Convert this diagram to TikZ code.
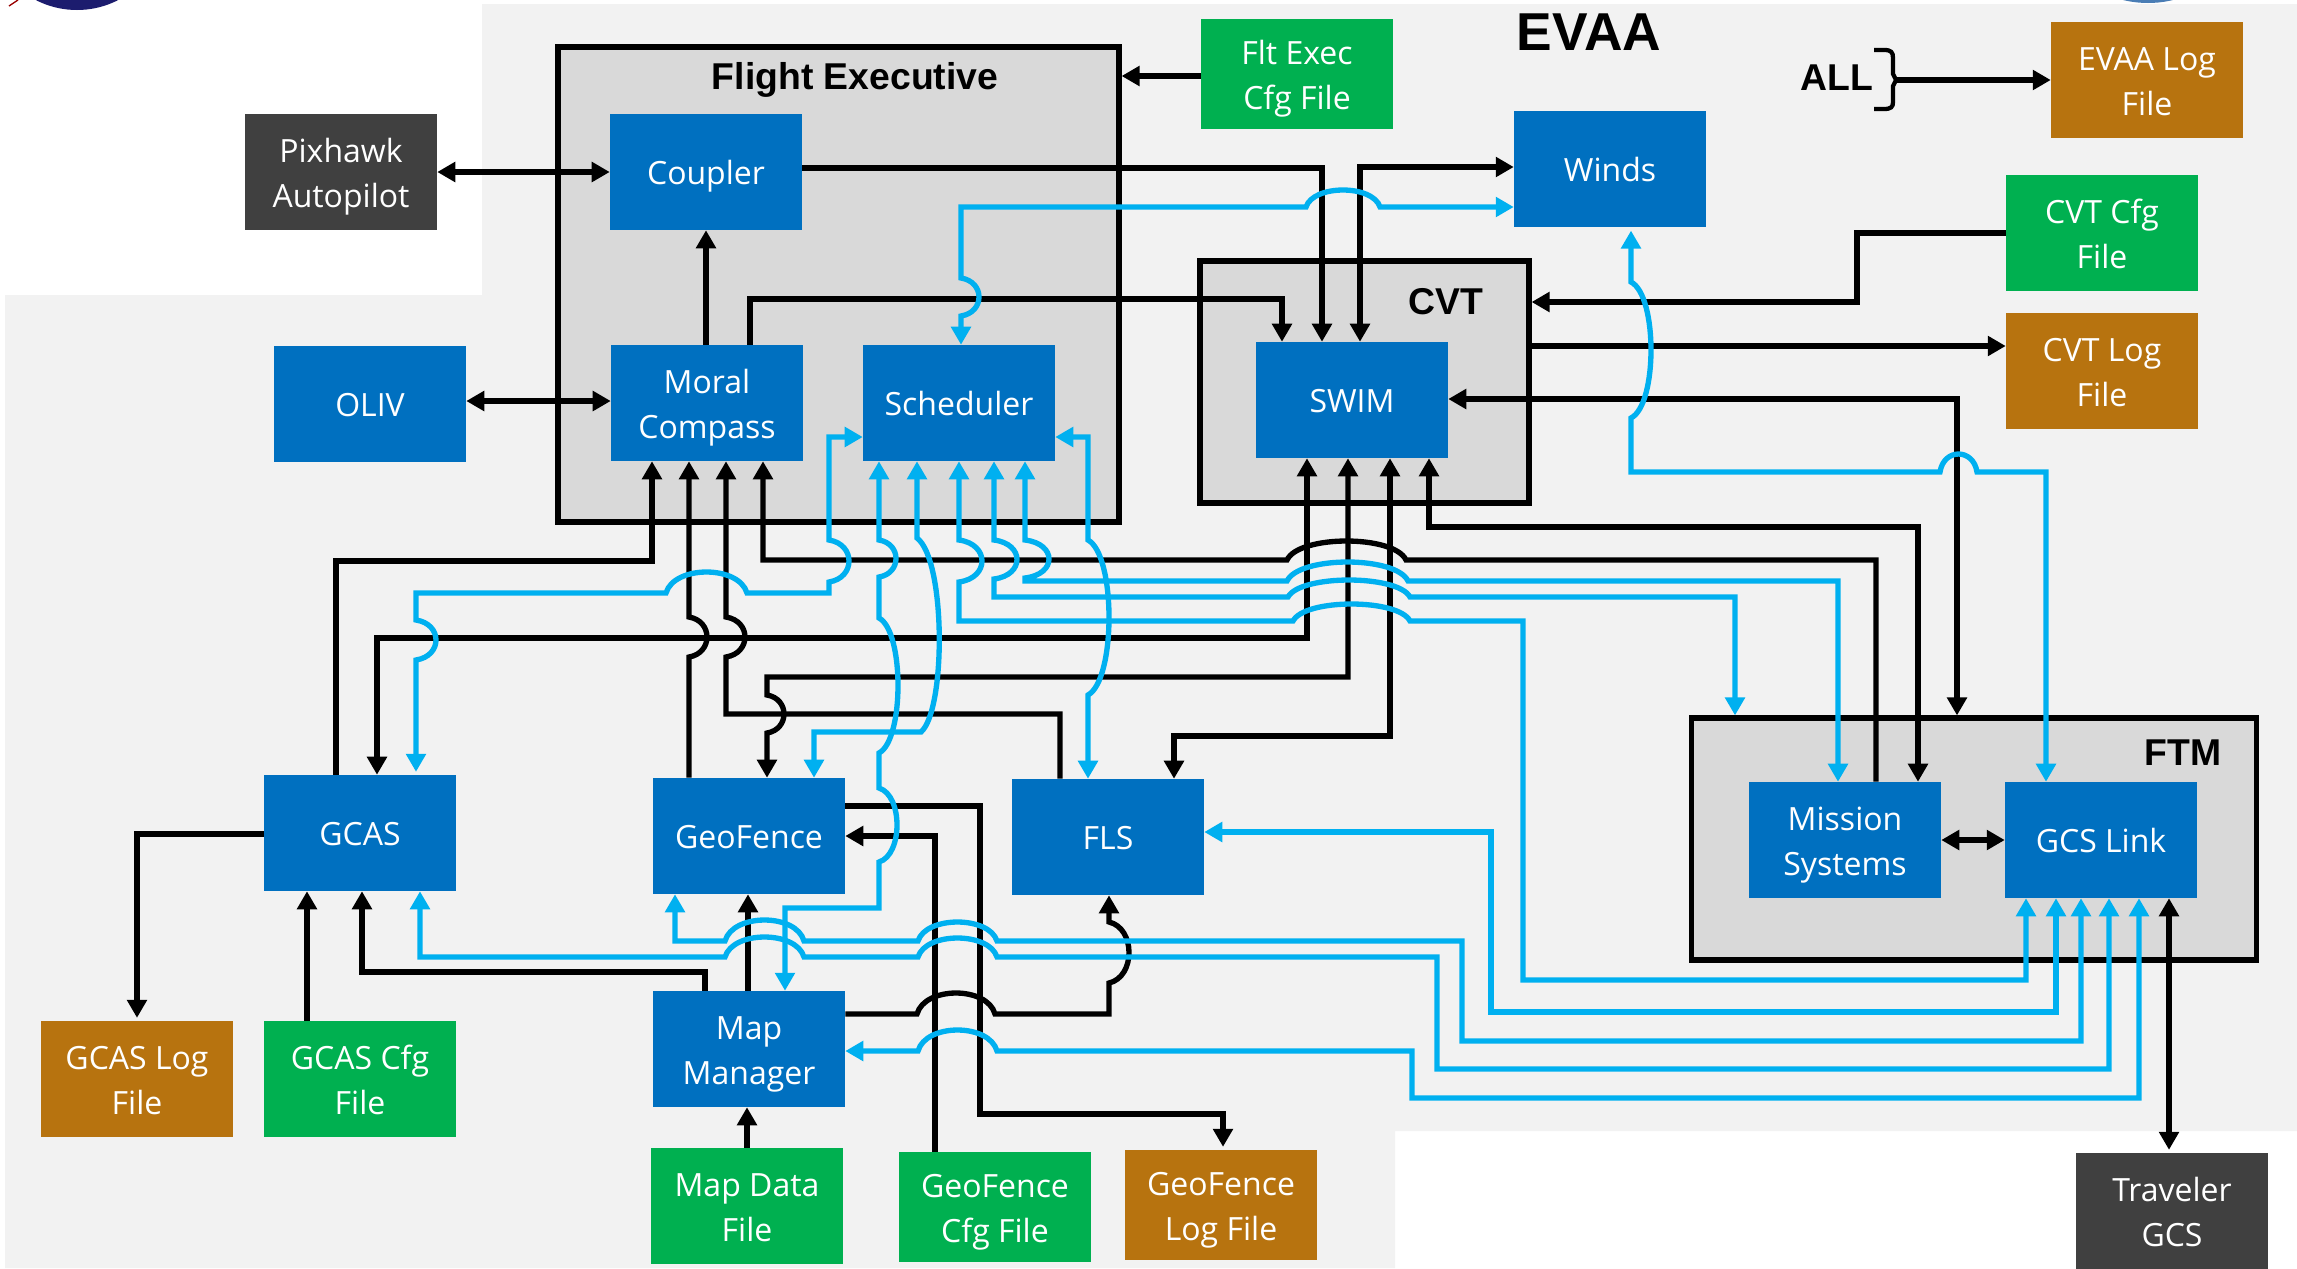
\documentclass[tikz,border=0pt]{standalone}
\usepackage{fontspec}
\setmainfont{Open Sans}
\newfontfamily\headf{Liberation Sans}
\usetikzlibrary{arrows.meta}
\definecolor{bgc}{HTML}{F2F2F2}
\definecolor{cont}{HTML}{D9D9D9}
\definecolor{bluebox}{HTML}{0070C0}
\definecolor{greenbox}{HTML}{00B050}
\definecolor{brownbox}{HTML}{B7730F}
\definecolor{darkbox}{HTML}{404040}
\definecolor{wire}{HTML}{00B0F0}
\definecolor{navy}{HTML}{1C1C6E}
\definecolor{steel}{HTML}{4A7DB5}
\newcommand\vj[4]{ -- (#1,#2) .. controls ({#1+(#4-#1)/0.75},{#2+0.1*(#3-#2)}) and ({#1+(#4-#1)/0.75},{#3-0.1*(#3-#2)}) .. (#1,#3)}
\newcommand\hj[4]{ -- (#1,#3) .. controls ({#1+0.1*(#2-#1)},{#3+(#4-#3)/0.75}) and ({#2-0.1*(#2-#1)},{#3+(#4-#3)/0.75}) .. (#2,#3)}
\newcommand\lbl[1]{\vbox{\vskip6pt\hbox{\begin{tabular}{@{}c@{}}#1\end{tabular}}}}
\tikzset{
  x=0.75pt,y=-0.75pt,
  modbox/.style={minimum width=144pt,minimum height=87pt,inner sep=0pt,text=white,
    font=\fontsize{24}{33.5}\selectfont},
  bluem/.style={modbox,fill=bluebox},
  greenm/.style={modbox,fill=greenbox},
  brownm/.style={modbox,fill=brownbox},
  darkm/.style={modbox,fill=darkbox},
  container/.style={draw=black,fill=cont,line width=3.9pt,inner sep=0pt},
  heading/.style={inner sep=0pt,font=\headf\bfseries\fontsize{28}{30}\selectfont},
  tips/.style={>={Triangle[length=13.5pt,width=14.5pt]}},
  bk/.style={draw=black,line width=4pt,line join=miter,tips},
  bl/.style={draw=wire,line width=4pt,line join=miter,tips},
  gap/.style={shorten >=2.2pt},
}
\begin{document}
\begin{tikzpicture}
\useasboundingbox (0,0) rectangle (2297,1268);
\fill[white] (0,0) rectangle (2297,1268);
\fill[bgc] (482,4) -- (2297,4) -- (2297,1131) -- (1395,1131) -- (1395,1268) -- (5,1268) -- (5,295) -- (482,295) -- cycle;
\begin{scope}
\clip (0,0) rectangle (2297,1268);
\fill[navy] (77,-80) circle [radius=67.5pt];
\draw[red!60!black,line width=1pt] (18,0) -- (9,6);
\fill[steel] (2148,-102) circle [radius=78.75pt];
\end{scope}
% containers
\node[container,minimum width=420.75pt,minimum height=356.25pt] (fe) at (838.5,284.5) {};
\node[container,minimum width=246.75pt,minimum height=181.5pt] (cvt) at (1364.5,382) {};
\node[container,minimum width=423.75pt,minimum height=181.5pt] (ftm) at (1974,839) {};
% headings
\node[heading] (tfe) at (855,80) {Flight Executive};
\node[heading] (tcvt) at (1446,302) {CVT};
\node[heading] (tftm) at (2183,753) {FTM};
\node[heading,font=\headf\bfseries\fontsize{40}{42}\selectfont] (tevaa) at (1589,32) {EVAA};
\node[heading] (tall) at (1837,78) {ALL};
% boxes
\node[darkm] (pixhawk) at (341,172) {\lbl{Pixhawk\\Autopilot}};
\node[bluem] (coupler) at (706,172) {\lbl{Coupler}};
\node[bluem] (moral) at (707,403) {\lbl{Moral\\Compass}};
\node[bluem] (sched) at (959,403) {\lbl{Scheduler}};
\node[bluem] (oliv) at (370,404) {\lbl{OLIV}};
\node[greenm,minimum height=82.5pt] (fltcfg) at (1297,74) {\lbl{Flt Exec\\Cfg File}};
\node[bluem] (winds) at (1610,169) {\lbl{Winds}};
\node[brownm] (evaalog) at (2147,80) {\lbl{EVAA Log\\File}};
\node[greenm] (cvtcfg) at (2102,233) {\lbl{CVT Cfg\\File}};
\node[brownm] (cvtlog) at (2102,371) {\lbl{CVT Log\\File}};
\node[bluem] (swim) at (1352,400) {\lbl{SWIM}};
\node[bluem] (gcas) at (360,833) {\lbl{GCAS}};
\node[bluem] (geofence) at (749,836) {\lbl{GeoFence}};
\node[bluem] (fls) at (1108,837) {\lbl{FLS}};
\node[bluem] (mapmgr) at (749,1049) {\lbl{Map\\Manager}};
\node[brownm] (gcaslog) at (137,1079) {\lbl{GCAS Log\\File}};
\node[greenm] (gcascfg) at (360,1079) {\lbl{GCAS Cfg\\File}};
\node[greenm] (mapdata) at (747,1206) {\lbl{Map Data\\File}};
\node[greenm,minimum height=82.5pt] (gfcfg) at (995,1207) {\lbl{GeoFence\\Cfg File}};
\node[brownm,minimum height=82.5pt] (gflog) at (1221,1205) {\lbl{GeoFence\\Log File}};
\node[bluem] (mission) at (1845,840) {\lbl{Mission\\Systems}};
\node[bluem] (gcslink) at (2101,840) {\lbl{GCS Link}};
\node[darkm] (traveler) at (2172,1211) {\lbl{Traveler\\GCS}};
% brace
\coordinate (brace) at (1896,80);
\draw[black,line width=3.2pt] (1874,50) -- (1884,50) .. controls (1891,50) and (1893,52) .. (1893,58) -- (1893,74) -- (brace) -- (1893,86) -- (1893,102) .. controls (1893,107) and (1891,109) .. (1884,109) -- (1874,109);
% black connectors
\draw[bk,->] (coupler.east |- 0,168) -- (1322,168) -- (swim.north -| 1322,0);
\draw[bk,<->] (winds.west |- 0,167) -- (1360,167) -- (swim.north -| 1360,0);
\draw[bk,->] (moral.north -| 750,0) -- (750,299) -- (1282,299) -- (swim.north -| 1282,0);
\draw[bk,->] (moral.north -| 706,0) -- (coupler.south -| 706,0);
\draw[bk,<->] (pixhawk.east) -- (coupler.west);
\draw[bk,<->] (oliv.east |- 0,401) -- (moral.west |- 0,401);
\draw[bk,->] (fltcfg.west |- 0,76) -- (fe.east |- 0,76);
\draw[bk,->] (cvtcfg.west |- 0,233) -- (1857,233) -- (1857,302) -- (cvt.east |- 0,302);
\draw[bk,->] (cvt.east |- 0,346) -- (cvtlog.west |- 0,346);
\draw[bk,<->] (swim.east |- 0,399) -- (1957,399) -- (ftm.north -| 1957,0);
\draw[bk,<->] (swim.south -| 1429,0) -- (1429,527) -- (1918,527) -- (mission.north -| 1918,0);
\draw[bk,<->] (swim.south -| 1307,0) -- (1307,638) -- (377,638) -- (gcas.north -| 377,0);
\draw[bk,<->] (swim.south -| 1348,0) -- (1348,677) -- (767,677) \vj{767}{695}{733}{784} -- (geofence.north -| 767,0);
\draw[bk,<->] (swim.south -| 1390,0) -- (1390,736) -- (1174,736) -- (fls.north -| 1174,0);
\draw[bk,<-] (moral.south -| 763,0) -- (763,560) \hj{1287}{1406}{560}{541} -- (1876,560) -- (mission.north -| 1876,0);
\draw[bk,->] (gcas.north -| 336,0) -- (336,561) -- (652,561) -- (moral.south -| 652,0);
\draw[bk,->] (geofence.north -| 689,0) \vj{689}{657}{617}{707} -- (moral.south -| 689,0);
\draw[bk,->] (fls.north -| 1060,0) -- (1060,714) -- (726,714) \vj{726}{657}{617}{745} -- (moral.south -| 726,0);
\draw[bk,->,gap] (geofence.east |- 0,806) -- (980,806) -- (980,1114) -- (1223,1114) -- (gflog.north -| 1223,0);
\draw[bk,->] (gfcfg.north -| 935,0) -- (935,836) -- (geofence.east |- 0,836);
\draw[bk,->] (mapmgr.north -| 705,0) -- (705,972) -- (362,972) -- (gcas.south -| 362,0);
\draw[bk,->] (mapmgr.north -| 748,0) -- (geofence.south -| 748,0);
\draw[bk,->] (mapdata.north -| 747,0) -- (mapmgr.south -| 747,0);
\draw[bk,->] (gcascfg.north -| 307,0) -- (gcas.south -| 307,0);
\draw[bk,->,gap] (gcas.west |- 0,834) -- (137,834) -- (gcaslog.north -| 137,0);
\draw[bk,->] (mapmgr.east |- 0,1014) \hj{917}{995}{1014}{993} -- (1109,1014) \vj{1109}{983}{922}{1129} -- (fls.south -| 1109,0);
\draw[bk,<->,gap] (gcslink.south -| 2169,0) -- (traveler.north -| 2169,0);
\draw[bk,<->] (mission.east |- 0,840) -- (gcslink.west |- 0,840);
\draw[bk,->] (brace) -- (evaalog.west |- brace);
% blue connectors
\draw[bl,<->] (sched.north -| 961,0) \vj{961}{316}{278}{979} -- (961,207) \hj{1306}{1380}{207}{190} -- (winds.west |- 0,207);
\draw[bl,<->,shorten <=2.5pt] (winds.south -| 1631,0) \vj{1631}{282}{418}{1651} -- (1631,472) \hj{1940}{1977}{472}{454} -- (2046,472) -- (gcslink.north -| 2046,0);
\draw[bl,<->] (sched.south -| 1025,0) \vj{1025}{540}{578}{1049} -- (1025,581) \hj{1287}{1408}{581}{562} -- (1838,581) -- (mission.north -| 1838,0);
\draw[bl,<->] (sched.south -| 994,0) \vj{994}{540}{579}{1017} -- (994,597) \hj{1288}{1410}{597}{580} -- (1735,597) -- (ftm.north -| 1735,0);
\draw[bl,<->] (sched.south -| 959,0) \vj{959}{540}{582}{982} -- (959,621) \hj{1293}{1410}{621}{604} -- (1523,621) -- (1523,980) -- (2026,980) -- (gcslink.south -| 2026,0);
\draw[bl,<->,gap] (sched.west |- 0,437) -- (829,437) \vj{829}{540}{582}{849} -- (829,593) \hj{747}{666}{593}{572} -- (416,593) \vj{416}{620}{660}{436} -- (gcas.north -| 416,0);
\draw[bl,<->] (sched.south -| 879,0) \vj{879}{540}{577}{896} \vj{879}{618}{753}{898} \vj{879}{788}{862}{897} -- (879,908) -- (785,908) -- (mapmgr.north -| 785,0);
\draw[bl,<->] (sched.south -| 917,0) -- (917,538) .. controls (946,560) and (946,710) .. (921,732) -- (814,732) -- (geofence.north -| 814,0);
\draw[bl,<->] (sched.east |- 0,437) -- (1088,437) \vj{1088}{540}{695}{1109} -- (fls.north -| 1088,0);
\draw[bl,<->] (gcslink.south -| 2081,0) -- (2081,1041) -- (1462,1041) -- (1462,941) \hj{997}{918}{941}{922} \hj{804}{725}{941}{920} -- (675,941) -- (geofence.south -| 675,0);
\draw[bl,<->] (gcslink.south -| 2109,0) -- (2109,1069) -- (1437,1069) -- (1437,957) \hj{997}{918}{957}{938} \hj{804}{725}{957}{937} -- (420,957) -- (gcas.south -| 420,0);
\draw[bl,<->] (gcslink.south -| 2139,0) -- (2139,1098) -- (1412,1098) -- (1412,1051) \hj{997}{918}{1051}{1030} -- (mapmgr.east |- 0,1051);
\draw[bl,<->] (gcslink.south -| 2056,0) -- (2056,1012) -- (1491,1012) -- (1491,832) -- (fls.east |- 0,832);
\end{tikzpicture}
\end{document}
